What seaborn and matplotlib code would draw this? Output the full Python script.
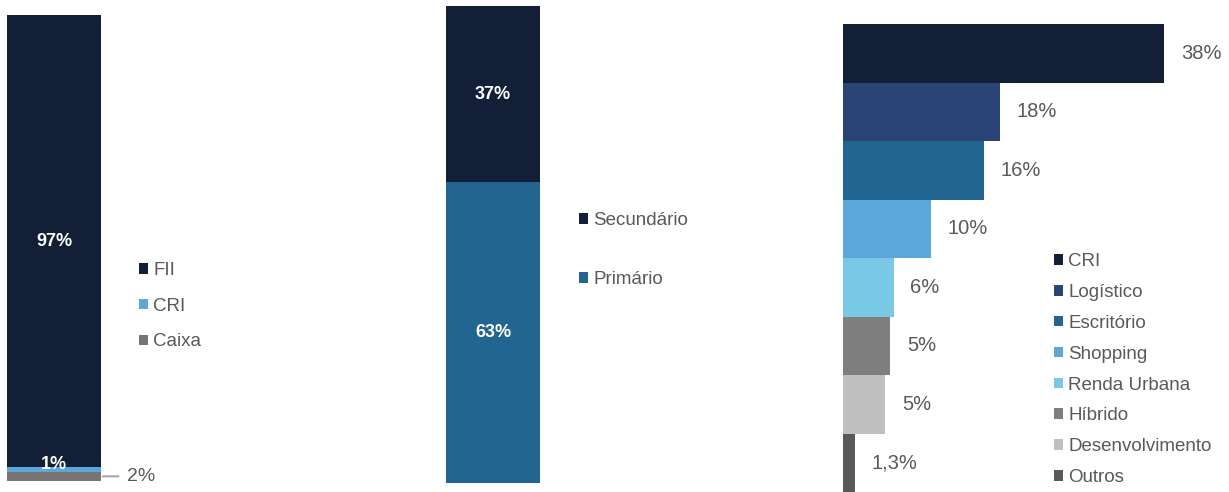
import matplotlib
matplotlib.use('Agg')
import matplotlib.pyplot as plt
from matplotlib.patches import Patch
import seaborn as sns
import pandas as pd

# painel 1 - alocacao por classe de ativo (de baixo para cima: Caixa, CRI, FII)
classes = ['FII', 'CRI', 'Caixa']
classe_pct = [97, 1, 2]
classe_cores = ['#131F37', '#5BA7DB', '#7A7374']
classe_empilhamento = ['Caixa', 'CRI', 'FII']

# painel 2 - mercado primario x secundario
mercados = ['Secundário', 'Primário']
mercado_pct = [37, 63]
mercado_cores = ['#131F37', '#236591']
mercado_empilhamento = ['Primário', 'Secundário']

# painel 3 - alocacao por setor
setores = ['CRI', 'Logístico', 'Escritório', 'Shopping', 'Renda Urbana',
           'Híbrido', 'Desenvolvimento', 'Outros']
setor_pct = [38, 18.6, 16.7, 10.4, 6.0, 5.6, 5.0, 1.4]
setor_labels = ['38%', '18%', '16%', '10%', '6%', '5%', '5%', '1,3%']
setor_cores = ['#131F37', '#2A4478', '#226591', '#5BA7DB', '#78C8E6',
               '#7F7F7F', '#BFBFBF', '#595959']

CINZA = '#595959'
W, H = 1229, 492

sns.set_style('white')
plt.rcParams['font.family'] = ['Liberation Sans', 'DejaVu Sans']


def px_axes(fig, x0, y0, x1, y1):
    """Cria eixo a partir de coordenadas em pixels (origem no topo)."""
    return fig.add_axes([x0 / W, 1 - y1 / H, (x1 - x0) / W, (y1 - y0) / H])


def stacked_bar(ax, names, pcts, colors, order):
    """Barra empilhada: desenha do acumulado maior para o menor."""
    df = pd.DataFrame({'nome': names, 'pct': pcts, 'cor': colors}).set_index('nome').loc[order]
    df['topo'] = df['pct'].cumsum()
    df['base'] = df['topo'] - df['pct']
    for nome, row in df.iloc[::-1].iterrows():
        sns.barplot(x=['a'], y=[row['topo']], color=row['cor'], width=1,
                    saturation=1, linewidth=0, ax=ax)
    ax.set_xlim(-0.5, 0.5)
    ax.set_ylim(0, 100)
    ax.axis('off')
    return df


def legenda(ax, names, colors, x, y, spacing):
    handles = [Patch(facecolor=c, edgecolor='none', label=n) for n, c in zip(names, colors)]
    ax.legend(handles=handles, loc='upper left', bbox_to_anchor=(x / W, 1 - y / H),
              bbox_transform=ax.figure.transFigure, frameon=False, fontsize=13.5,
              labelcolor=CINZA, handlelength=0.5, handleheight=0.5,
              handletextpad=0.25, labelspacing=spacing, borderpad=0, borderaxespad=0)


fig = plt.figure(figsize=(W / 100, H / 100), dpi=100)

# ---- painel 1
ax1 = px_axes(fig, 7, 15, 101, 481)
df1 = stacked_bar(ax1, classes, classe_pct, classe_cores, classe_empilhamento)
fii = df1.loc['FII']
ax1.text(0, (fii['base'] + fii['topo']) / 2, '97%', color='white', fontsize=13,
         fontweight='bold', ha='center', va='center')
ax1.text(0, df1.loc['CRI', 'topo'] - 0.4, '1%', color='white', fontsize=13,
         fontweight='bold', ha='center', va='baseline')
caixa_y = (df1.loc['Caixa', 'base'] + df1.loc['Caixa', 'topo']) / 2
ax1.annotate('2%', xy=(0.52, caixa_y), xytext=(0.78, caixa_y), color=CINZA,
             fontsize=14, va='center', ha='left', annotation_clip=False,
             arrowprops=dict(arrowstyle='-', color='#A6A6A6', lw=1.5,
                             shrinkA=4, shrinkB=0))
legenda(ax1, classes, classe_cores, 139, 262, 1.0)

# ---- painel 2
ax2 = px_axes(fig, 446, 6, 540, 483)
df2 = stacked_bar(ax2, mercados, mercado_pct, mercado_cores, mercado_empilhamento)
for nome in mercado_empilhamento:
    r = df2.loc[nome]
    ax2.text(0, (r['base'] + r['topo']) / 2, f"{r['pct']:.0f}%", color='white',
             fontsize=13, fontweight='bold', ha='center', va='center')
legenda(ax2, mercados, mercado_cores, 579, 212, 2.23)

# ---- painel 3
ax3 = px_axes(fig, 843, 24, 843 + 45 * 8.45, 492)
df3 = pd.DataFrame({'setor': setores, 'pct': setor_pct})
sns.barplot(data=df3, x='pct', y='setor', hue='setor', palette=setor_cores,
            width=1, saturation=1, linewidth=0, legend=False, ax=ax3)
ax3.set_xlim(0, 45)
ax3.set_ylim(len(setores) - 0.5, -0.5)
for i, (v, lab) in enumerate(zip(setor_pct, setor_labels)):
    ax3.annotate(lab, xy=(v, i), xytext=(12, 0), textcoords='offset points',
                 color=CINZA, fontsize=14.5, va='center', ha='left')
ax3.axis('off')
legenda(ax3, setores, setor_cores, 1054, 253, 0.74)

fig.savefig('out.png', dpi=100)
